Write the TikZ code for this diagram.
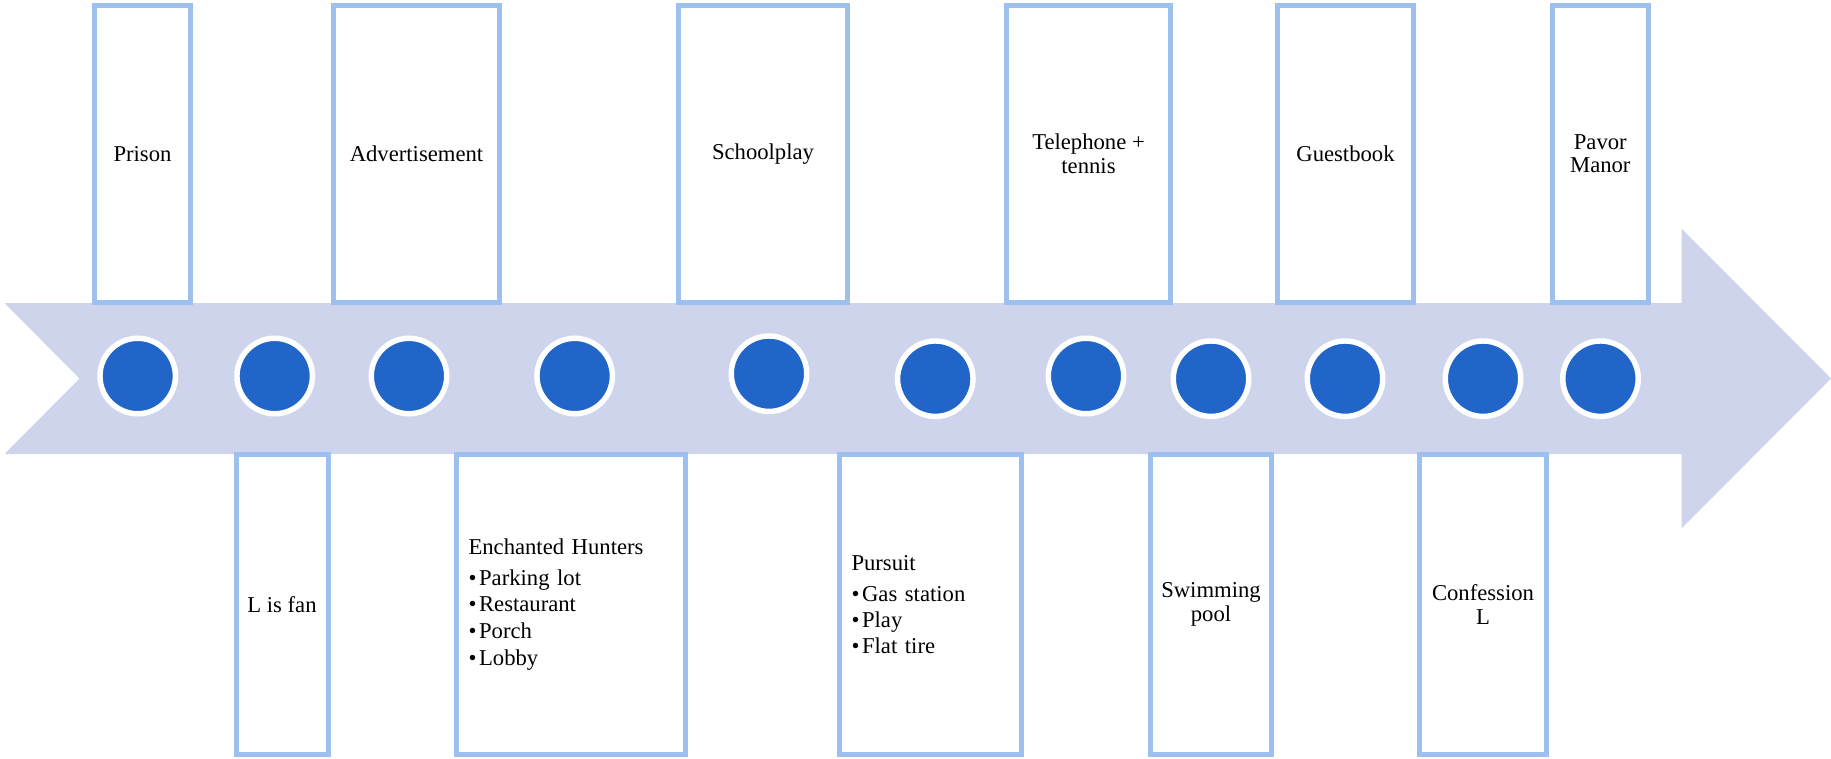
\documentclass[tikz,border=0pt]{standalone}
\usepackage{fontspec}
\setmainfont{Liberation Serif}
\usepackage{tikz}
\definecolor{bandfill}{RGB}{205,212,236}
\definecolor{boxline}{RGB}{157,192,240}
\definecolor{dotblue}{RGB}{33,101,201}

\begin{document}
\begin{tikzpicture}[x=0.75pt,y=0.75pt,yscale=-1,xscale=1,
    topbox/.style={draw=boxline,fill=white,line width=3.75pt,minimum height=223.1pt,inner sep=2pt,align=center,font=\fontsize{17}{17.5}\selectfont},
    botbox/.style={topbox,minimum height=225pt},
    listbox/.style={botbox,align=left,inner xsep=9pt},
    stopdot/.style={circle,draw=white,fill=dotblue,line width=4.1pt,minimum size=56.6pt,inner sep=0pt}]
        \useasboundingbox (0,0) rectangle (1831,758);
        %Shape: Notched Arrow [id:band]
        \fill [bandfill] (4.5,303) -- (1681.5,303) -- (1681.5,228.6) -- (1831,378.5) -- (1681.5,528.4) -- (1681.5,454) -- (4.5,454) -- (79.5,378.5) -- cycle ;

        % Top boxes
        \node [topbox,minimum width=72pt] (prison) at (142.5,153.75) {Prison};
        \node [topbox,minimum width=124.5pt] (advert) at (416.5,153.75) {Advertisement};
        \node [topbox,minimum width=126.75pt] (school) at (763,153.75) {Schoolplay};
        \node [topbox,minimum width=122.75pt] (phone) at (1088.5,153.75) {Telephone +\\tennis};
        \node [topbox,minimum width=102pt] (guest) at (1345.5,153.75) {Guestbook};
        \node [topbox,minimum width=72pt] (pavor) at (1600.3,153.75) {Pavor\\Manor};

        % Bottom boxes
        \node [botbox,minimum width=69pt] (fan) at (282,604.5) {L is fan};
        \node [listbox,minimum width=171.75pt,text width=153.75pt] (hunters) at (571,604.5) {Enchanted Hunters\\[5.5pt]
            \textbullet\hspace{2pt}Parking lot\\[2.5pt]
            \textbullet\hspace{2pt}Restaurant\\[2.5pt]
            \textbullet\hspace{2pt}Porch\\[2.5pt]
            \textbullet\hspace{2pt}Lobby};
        \node [listbox,minimum width=136.2pt,text width=118.2pt] (pursuit) at (930.3,604.5) {Pursuit\\[6pt]
            \textbullet\hspace{2pt}Gas station\\[2pt]
            \textbullet\hspace{2pt}Play\\[2pt]
            \textbullet\hspace{2pt}Flat tire};
        \node [botbox,minimum width=90.75pt] (pool) at (1211,604.5) {Swimming\\pool};
        \node [botbox,minimum width=95.25pt] (confess) at (1483,604.5) {Confession\\L};

        % Stops on the arrow
        \node [stopdot] (s1) at (137.7,376) {};
        \node [stopdot] (s2) at (274.7,376) {};
        \node [stopdot] (s3) at (409,376) {};
        \node [stopdot] (s4) at (574.7,376) {};
        \node [stopdot] (s5) at (769,373.7) {};
        \node [stopdot] (s6) at (935.3,378.7) {};
        \node [stopdot] (s7) at (1086,376) {};
        \node [stopdot] (s8) at (1211,378.7) {};
        \node [stopdot] (s9) at (1345,378.7) {};
        \node [stopdot] (s10) at (1483,378.7) {};
        \node [stopdot] (s11) at (1600.5,378.7) {};

    \end{tikzpicture}
\end{document}
